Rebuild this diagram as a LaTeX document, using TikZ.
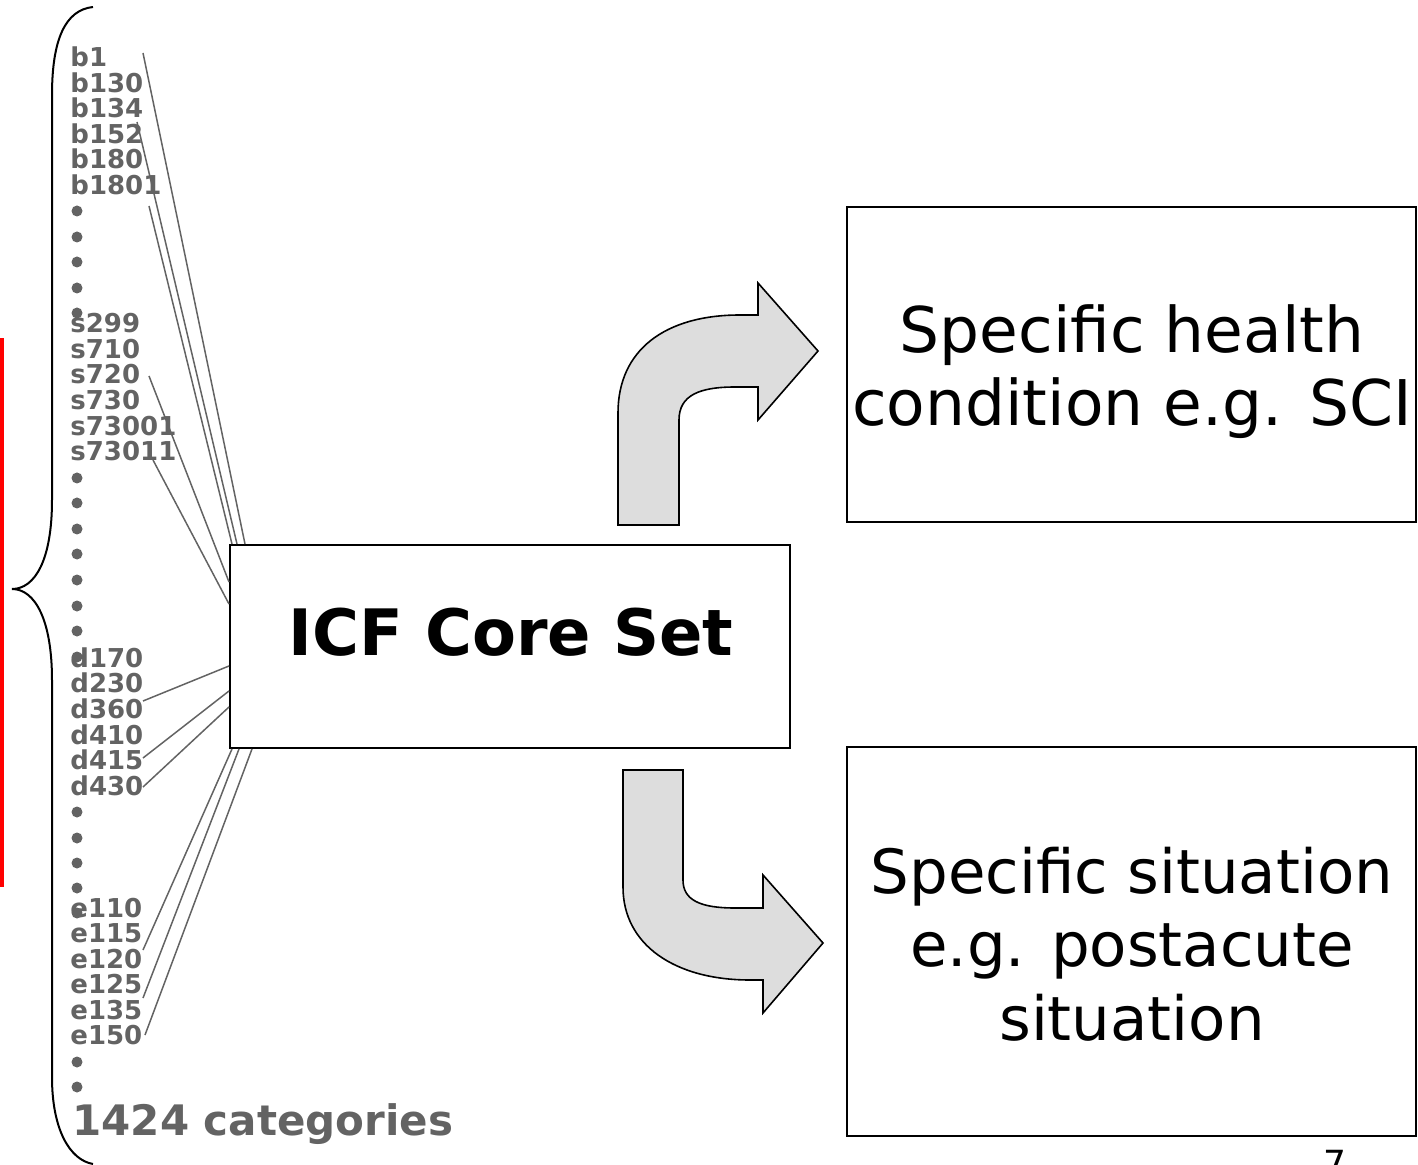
\documentclass[tikz,border=0pt]{standalone}
\usepackage{fontspec}
\setmainfont{DejaVu Sans}
\usetikzlibrary{calc}
\definecolor{lab}{HTML}{636363}
\definecolor{arrfill}{HTML}{DDDDDD}
\definecolor{barred}{HTML}{FF0000}
\begin{document}
\begin{tikzpicture}[x=0.5pt,y=-0.5pt,
  code/.style={font=\fontsize{13}{15}\selectfont\bfseries, text=lab, anchor=base west, inner sep=0pt},
  bigtxt/.style={font=\fontsize{31.5}{36}\selectfont, anchor=base, inner sep=0pt},
  bigtxtb/.style={font=\fontsize{30.5}{36}\selectfont, anchor=base, inner sep=0pt},
  box/.style={draw=black, line width=1pt, inner sep=0pt},
  link/.style={draw=lab, line width=0.75pt},
  bigarrow/.style={fill=arrfill, draw=black, line width=0.8pt, line join=miter}]
\useasboundingbox (0,0) rectangle (1418,1165);

% red bar
\fill[barred] (0,338) rectangle (4,887);

% brace
\draw[line width=1pt] (93,7) .. controls (65,10) and (52,40) .. (52,95) -- (52,500)
  .. controls (52,560) and (35,589) .. (12,589)
  .. controls (35,589) and (52,620) .. (52,680) -- (52,1077)
  .. controls (52,1130) and (70,1160) .. (93,1164);

% code labels
\node[code] (b1) at (70,67) {b1};
\node[code] (b130) at (70,92.5) {b130};
\node[code] (b134) at (70,118) {b134};
\node[code] (b152) at (70,143.5) {b152};
\node[code] (b180) at (70,169) {b180};
\node[code] (b1801) at (70,194.5) {b1801};
\foreach \yy in {211,237,262,288,313} \fill[lab] (77,\yy) circle[radius=5.5];
\node[code] (s299) at (70,333) {s299};
\node[code] (s710) at (70,358.6) {s710};
\node[code] (s720) at (70,384) {s720};
\node[code] (s730) at (70,410) {s730};
\node[code] (s73001) at (70,435.5) {s73001};
\node[code] (s73011) at (70,461) {s73011};
\foreach \yy in {478,503,529,554,580,606,631,657} \fill[lab] (77,\yy) circle[radius=5.5];
\node[code] (d170) at (70,667) {d170};
\node[code] (d230) at (70,692.5) {d230};
\node[code] (d360) at (70,718) {d360};
\node[code] (d410) at (70,744) {d410};
\node[code] (d415) at (70,769) {d415};
\node[code] (d430) at (70,795) {d430};
\foreach \yy in {812,838,863,888,913} \fill[lab] (77,\yy) circle[radius=5.5];
\node[code] (e110) at (70,917) {e110};
\node[code] (e115) at (70,942.5) {e115};
\node[code] (e120) at (70,968) {e120};
\node[code] (e125) at (70,993.5) {e125};
\node[code] (e135) at (70,1019) {e135};
\node[code] (e150) at (70,1044.5) {e150};
\foreach \yy in {1062,1087} \fill[lab] (77,\yy) circle[radius=5.5];
\node[font=\fontsize{21}{24}\selectfont\bfseries, text=lab, anchor=base west, inner sep=0pt] (cats) at (72,1135) {1424 categories};

% core box
\node[box, minimum width=280pt, minimum height=101.5pt] (core) at (510,646.5) {};
\node[font=\fontsize{32}{36}\selectfont\bfseries, anchor=base, inner sep=0pt] (coretxt) at (511,655) {ICF Core Set};

% right boxes
\node[box, minimum width=284.5pt, minimum height=157.5pt] (health) at (1131.5,364.5) {};
\node[bigtxt] (h1) at (1132,353) {Specific health};
\node[bigtxt] (h2) at (1132,426) {condition e.g. SCI};
\node[box, minimum width=284.5pt, minimum height=194.5pt] (situ) at (1131.5,941.5) {};
\node[bigtxtb] (s1) at (1132,893) {Specific situation};
\node[bigtxtb] (s2) at (1132,966) {e.g. postacute};
\node[bigtxtb] (s3) at (1132,1040) {situation};

% connector end points
\coordinate (cb1) at (143,53);
\coordinate (cb152) at (137,122);
\coordinate (cb1801) at (149,206);
\coordinate (cs720) at (149,376);
\coordinate (cs73011) at (153,460);
\coordinate (cd360) at (143,701);
\coordinate (cd415) at (143,758);
\coordinate (cd430) at (143,787);
\coordinate (ce115) at (143,950);
\coordinate (ce125) at (143,998);
\coordinate (ce150) at (145,1035);

\draw[link] (cb1) -- ($(core.north west)+(16,0)$);
\draw[link] (cb152) -- ($(core.north west)+(8,0)$);
\draw[link] (cb1801) -- ($(core.north west)+(3,0)$);
\draw[link] (cs720) -- ($(core.north west)+(0,38)$);
\draw[link] (cs73011) -- ($(core.north west)+(0,60)$);
\draw[link] (cd360) -- ($(core.north west)+(0,122)$);
\draw[link] (cd415) -- ($(core.north west)+(0,147)$);
\draw[link] (cd430) -- ($(core.north west)+(0,163)$);
\draw[link] ($(core.south west)+(3,0)$) -- (ce115);
\draw[link] ($(core.south west)+(10,0)$) -- (ce125);
\draw[link] ($(core.south west)+(23,0)$) -- (ce150);

% curved arrows
\draw[bigarrow] (618,525) -- (618,413) .. controls (618,350) and (665,315) .. (740,315)
  -- (758,315) -- (758,283) -- (818,351) -- (758,420) -- (758,387) -- (735,387)
  .. controls (700,387) and (679,395) .. (679,420) -- (679,525) -- cycle;
\draw[bigarrow] (623,770) -- (683,770) -- (683,880) .. controls (683,900) and (700,908) .. (735,908)
  -- (763,908) -- (763,875) -- (823,943) -- (763,1013) -- (763,980) -- (750,980)
  .. controls (675,980) and (623,945) .. (623,887) -- cycle;

% page number (cut off at the lower edge, as in the reference)
\node[font=\fontsize{18}{20}\selectfont, anchor=base, inner sep=0pt] (pnum) at (1335,1176) {7};
\end{tikzpicture}
\end{document}
